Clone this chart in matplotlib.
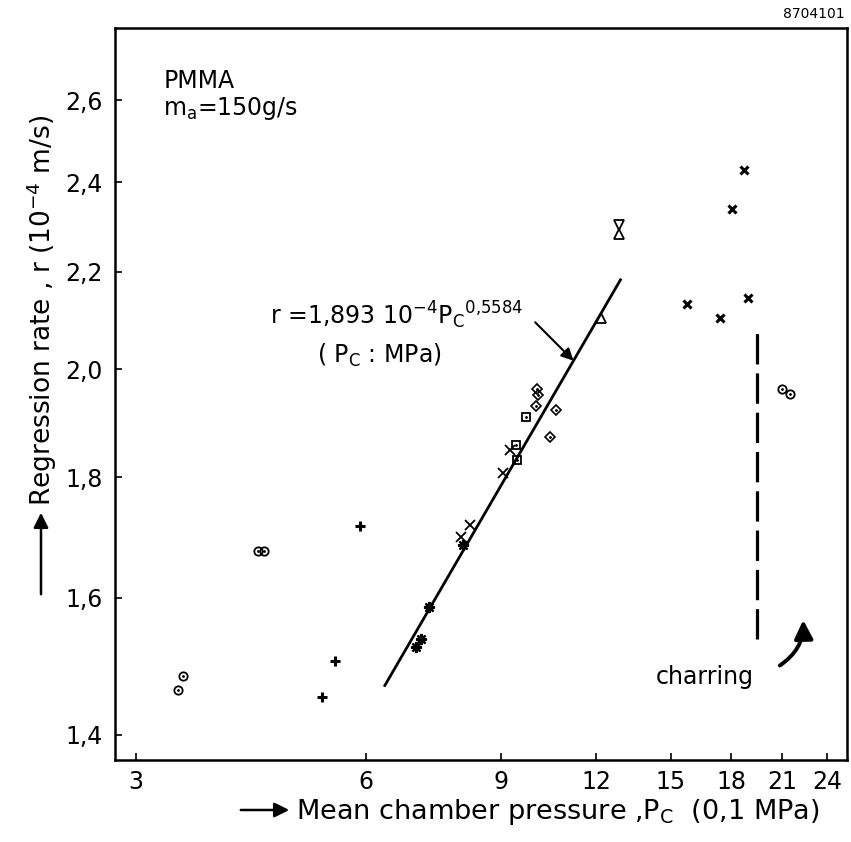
import numpy as np
import matplotlib
matplotlib.use("Agg")
import matplotlib.pyplot as plt
from matplotlib.patches import FancyArrowPatch

plt.rcParams['font.family'] = ['DejaVu Sans']
plt.rcParams['mathtext.default'] = 'regular'

# Mean chamber pressure (0,1 MPa) and regression rate (10^-4 m/s), per test series
circ_p = [3.41, 3.46, 4.33, 4.42, 21.0, 21.5]
circ_r = [1.462, 1.482, 1.675, 1.675, 1.962, 1.952]
plus_p = [5.25, 5.46, 5.90]
plus_r = [1.453, 1.504, 1.716]
star_p = [6.97, 7.09, 7.25, 8.03]
star_r = [1.525, 1.537, 1.586, 1.685]
cross_p = [7.98, 8.20, 9.05, 9.25]
cross_r = [1.698, 1.718, 1.808, 1.848]
sq_p = [9.44, 9.42, 9.70]
sq_r = [1.830, 1.858, 1.909]
dia_p = [10.03, 10.06, 10.00, 10.62, 10.43]
dia_r = [1.962, 1.950, 1.929, 1.922, 1.872]
tri_p = [12.16]
tri_r = [2.103]
hour_p = [12.84, 12.84]
hour_r = [2.303, 2.283]
bx_p = [18.70, 18.04, 18.93, 15.76, 17.40]
bx_r = [2.430, 2.339, 2.143, 2.131, 2.102]

# Power-law fit r = a * Pc^n (Pc in MPa)
fit_a = 1.893
fit_n = 0.5584
fit_p_range = [6.35, 12.9]

# Onset of charring
charring_p = 19.45
charring_r = [1.537, 2.089]

x_ticks = [3, 6, 9, 12, 15, 18, 21, 24]
y_ticks = [1.4, 1.6, 1.8, 2.0, 2.2, 2.4, 2.6]
y_ticklabels = ['1,4', '1,6', '1,8', '2,0', '2,2', '2,4', '2,6']

W, H = 851, 842
fig = plt.figure(figsize=(W / 100, H / 100), dpi=100)
ax = fig.add_axes([115 / W, 1 - 760 / H, (847 - 115) / W, (760 - 28) / H])
ax.set_xscale('log')
ax.set_yscale('log')
ax.set_xlim(2.82, 25.5)
ax.set_ylim(1.366, 2.79)

k = 'black'
# circles with centre dot
ax.plot(circ_p, circ_r, 'o', ms=6, mfc='none', mec=k, mew=1.3, ls='none')
ax.plot(circ_p, circ_r, '.', ms=2, color=k, ls='none')
ax.plot(plus_p, plus_r, '+', ms=6.5, mec=k, mew=2.2, ls='none')
ax.plot(star_p, star_r, marker=(8, 2, 0), ms=8, mec=k, mew=1.6, ls='none')
ax.plot(cross_p, cross_r, 'x', ms=6.5, mec=k, mew=1.3, ls='none')
ax.plot(sq_p, sq_r, 's', ms=5.5, mfc='none', mec=k, mew=1.3, ls='none')
ax.plot(sq_p, sq_r, '.', ms=2, color=k, ls='none')
ax.plot(dia_p, dia_r, 'D', ms=5, mfc='none', mec=k, mew=1.2, ls='none')
ax.plot(dia_p, dia_r, '.', ms=2, color=k, ls='none')
ax.plot(tri_p, tri_r, '^', ms=6.5, mfc='none', mec=k, mew=1.3, ls='none')
ax.plot(hour_p[:1], hour_r[:1], 'v', ms=6.5, mfc='none', mec=k, mew=1.3, ls='none')
ax.plot(hour_p[1:], hour_r[1:], '^', ms=6.5, mfc='none', mec=k, mew=1.3, ls='none')
ax.plot(bx_p, bx_r, 'x', ms=5.5, mec=k, mew=2.2, ls='none')

# fitted line
p_fit = np.geomspace(fit_p_range[0], fit_p_range[1], 60)
r_fit = fit_a * (p_fit / 10.0) ** fit_n
ax.plot(p_fit, r_fit, color=k, lw=2.0)

# charring boundary
ax.plot([charring_p, charring_p], charring_r, color=k, lw=2.3,
        dashes=(9.5, 2.8))

# spines and ticks
for s in ax.spines.values():
    s.set_linewidth(1.8)
ax.set_xticks(x_ticks)
ax.set_xticklabels([str(v) for v in x_ticks])
ax.set_yticks(y_ticks)
ax.set_yticklabels(y_ticklabels)
ax.xaxis.set_minor_locator(matplotlib.ticker.NullLocator())
ax.yaxis.set_minor_locator(matplotlib.ticker.NullLocator())
ax.tick_params(direction='in', length=5, width=1.2, labelsize=17, pad=9)
ax.tick_params(axis='x', pad=7)

# annotations inside the plot
ax.text(0.066, 0.928, 'PMMA', transform=ax.transAxes, fontsize=17,
        ha='left', va='center')
ax.text(0.066, 0.890, r'm$_a$=150g/s', transform=ax.transAxes, fontsize=17,
        ha='left', va='center')
ax.text(0.212, 0.608, r'r =1,893 10$^{-4}$P$_C$$^{0{,}5584}$',
        transform=ax.transAxes, fontsize=17, ha='left', va='center')
ax.text(0.276, 0.553, r'( P$_C$ : MPa)', transform=ax.transAxes,
        fontsize=17, ha='left', va='center')

# arrow pointing at the fitted line
p_tip = 11.2
r_tip = fit_a * (p_tip / 10.0) ** fit_n
ax.annotate('', xy=(p_tip, r_tip), xycoords='data',
            xytext=(0.574, 0.598), textcoords='axes fraction',
            arrowprops=dict(arrowstyle='-|>', color=k, lw=1.5,
                            mutation_scale=18, shrinkA=0, shrinkB=0))

ax.text(0.806, 0.113, 'charring', transform=ax.transAxes, fontsize=17,
        ha='center', va='center')
arr = FancyArrowPatch((0.905, 0.127), (0.94, 0.195), transform=ax.transAxes,
                      connectionstyle='arc3,rad=0.3', arrowstyle='-|>',
                      mutation_scale=28, lw=2.8, color=k)
ax.add_patch(arr)

# axis titles with leading arrows
fig.text(296 / W, 1 - 812 / H, r'Mean chamber pressure ,P$_C$  (0,1 MPa)',
         fontsize=19.5, ha='left', va='center')
fig.patches.append(FancyArrowPatch((238 / W, 1 - 810 / H), (292 / W, 1 - 810 / H),
                                   transform=fig.transFigure, arrowstyle='-|>',
                                   mutation_scale=22, lw=1.8, color=k))
fig.text(42 / W, 1 - 310 / H, r'Regression rate , r (10$^{-4}$ m/s)',
         fontsize=19, rotation=90, ha='center', va='center')
fig.patches.append(FancyArrowPatch((41 / W, 1 - 597 / H), (41 / W, 1 - 510 / H),
                                   transform=fig.transFigure, arrowstyle='-|>',
                                   mutation_scale=22, lw=1.8, color=k))

fig.text(845 / W, 1 - 14 / H, '8704101', fontsize=10, ha='right', va='center')

fig.savefig('out.png', dpi=100)
